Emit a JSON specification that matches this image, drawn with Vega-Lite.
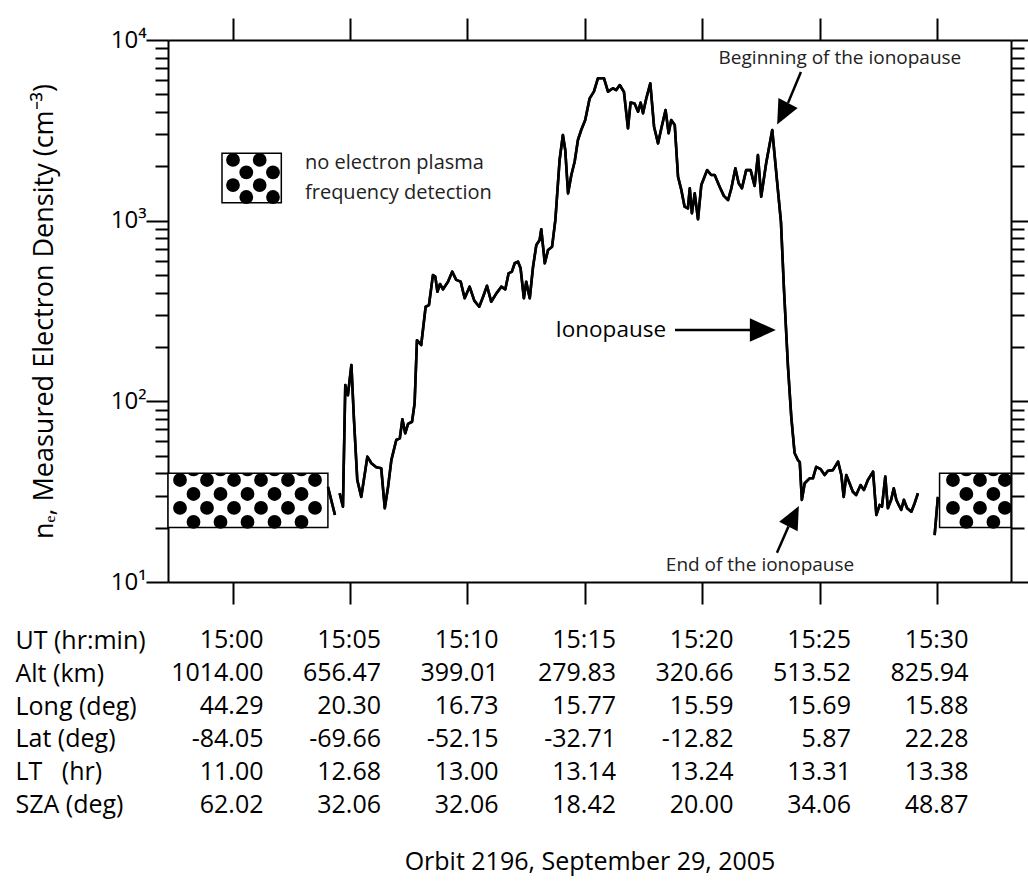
{
  "$schema": "https://vega.github.io/schema/vega-lite/v6.json",
  "padding": {"left": 15, "top": 17, "right": 5, "bottom": 5},
  "background": "white",
  "bounds": "flush",
  "spacing": 42,
  "config": {
    "view": {"stroke": null},
    "font": "Open Sans",
    "text": {"font": "Open Sans", "color": "black"},
    "axis": {"zindex": 1, "grid": false, "domainColor": "black", "domainWidth": 2, "tickColor": "black", "tickWidth": 2, "labelColor": "black", "titleColor": "black", "labelFont": "Open Sans", "titleFont": "Open Sans", "titleFontWeight": "normal"}
  },
  "datasets": {
    "trace": [
      {"t": 4.06, "ne": 33.6, "s": "A"}, {"t": 4.36, "ne": 23.5, "s": "A"},
      {"t": 4.56, "ne": 31.0, "s": "B"}, {"t": 4.70, "ne": 26.1, "s": "B"}, {"t": 4.80, "ne": 123, "s": "B"}, {"t": 4.91, "ne": 108, "s": "B"},
      {"t": 5.06, "ne": 159, "s": "B"}, {"t": 5.17, "ne": 78.9, "s": "B"}, {"t": 5.31, "ne": 36.7, "s": "B"}, {"t": 5.48, "ne": 29.6, "s": "B"},
      {"t": 5.74, "ne": 49.4, "s": "B"}, {"t": 5.91, "ne": 45.4, "s": "B"}, {"t": 6.12, "ne": 43.2, "s": "B"}, {"t": 6.33, "ne": 42.6, "s": "B"},
      {"t": 6.48, "ne": 25.6, "s": "B"}, {"t": 6.62, "ne": 33.6, "s": "B"}, {"t": 6.76, "ne": 47.3, "s": "B"}, {"t": 6.97, "ne": 61.1, "s": "B"},
      {"t": 7.12, "ne": 62.4, "s": "B"}, {"t": 7.23, "ne": 79.6, "s": "B"}, {"t": 7.35, "ne": 66.5, "s": "B"}, {"t": 7.47, "ne": 75.0, "s": "B"},
      {"t": 7.64, "ne": 77.1, "s": "B"}, {"t": 7.75, "ne": 97.5, "s": "B"}, {"t": 7.85, "ne": 218, "s": "B"}, {"t": 8.03, "ne": 205, "s": "B"},
      {"t": 8.22, "ne": 334, "s": "B"}, {"t": 8.36, "ne": 341, "s": "B"}, {"t": 8.53, "ne": 500, "s": "B"}, {"t": 8.63, "ne": 490, "s": "B"},
      {"t": 8.72, "ne": 404, "s": "B"}, {"t": 8.83, "ne": 446, "s": "B"}, {"t": 8.96, "ne": 417, "s": "B"}, {"t": 9.17, "ne": 459, "s": "B"},
      {"t": 9.35, "ne": 522, "s": "B"}, {"t": 9.52, "ne": 470, "s": "B"}, {"t": 9.71, "ne": 460, "s": "B"}, {"t": 9.88, "ne": 372, "s": "B"},
      {"t": 10.09, "ne": 431, "s": "B"}, {"t": 10.29, "ne": 361, "s": "B"}, {"t": 10.50, "ne": 334, "s": "B"}, {"t": 10.68, "ne": 384, "s": "B"},
      {"t": 10.83, "ne": 436, "s": "B"}, {"t": 11.01, "ne": 356, "s": "B"}, {"t": 11.23, "ne": 396, "s": "B"}, {"t": 11.44, "ne": 431, "s": "B"},
      {"t": 11.61, "ne": 417, "s": "B"}, {"t": 11.75, "ne": 511, "s": "B"}, {"t": 11.89, "ne": 522, "s": "B"}, {"t": 12.01, "ne": 581, "s": "B"},
      {"t": 12.15, "ne": 593, "s": "B"}, {"t": 12.26, "ne": 545, "s": "B"}, {"t": 12.40, "ne": 372, "s": "B"}, {"t": 12.50, "ne": 459, "s": "B"},
      {"t": 12.65, "ne": 372, "s": "B"}, {"t": 12.79, "ne": 556, "s": "B"}, {"t": 12.93, "ne": 733, "s": "B"}, {"t": 13.07, "ne": 781, "s": "B"},
      {"t": 13.14, "ne": 895, "s": "B"}, {"t": 13.29, "ne": 581, "s": "B"}, {"t": 13.43, "ne": 689, "s": "B"}, {"t": 13.60, "ne": 718, "s": "B"},
      {"t": 13.74, "ne": 1009, "s": "B"}, {"t": 13.92, "ne": 2167, "s": "B"}, {"t": 14.06, "ne": 2979, "s": "B"}, {"t": 14.16, "ne": 2460, "s": "B"},
      {"t": 14.28, "ne": 1416, "s": "B"}, {"t": 14.42, "ne": 1790, "s": "B"}, {"t": 14.56, "ne": 2118, "s": "B"}, {"t": 14.70, "ne": 2795, "s": "B"},
      {"t": 14.84, "ne": 3175, "s": "B"}, {"t": 15.01, "ne": 3606, "s": "B"}, {"t": 15.20, "ne": 4755, "s": "B"}, {"t": 15.38, "ne": 5176, "s": "B"},
      {"t": 15.55, "ne": 6140, "s": "B"}, {"t": 15.81, "ne": 6140, "s": "B"}, {"t": 15.98, "ne": 5176, "s": "B"}, {"t": 16.19, "ne": 5406, "s": "B"},
      {"t": 16.33, "ne": 5285, "s": "B"}, {"t": 16.48, "ne": 5634, "s": "B"}, {"t": 16.66, "ne": 5153, "s": "B"}, {"t": 16.83, "ne": 3244, "s": "B"},
      {"t": 16.94, "ne": 4509, "s": "B"}, {"t": 17.11, "ne": 4448, "s": "B"}, {"t": 17.26, "ne": 4009, "s": "B"}, {"t": 17.37, "ne": 4498, "s": "B"},
      {"t": 17.47, "ne": 3928, "s": "B"}, {"t": 17.61, "ne": 4755, "s": "B"}, {"t": 17.78, "ne": 5759, "s": "B"}, {"t": 17.94, "ne": 3311, "s": "B"},
      {"t": 18.11, "ne": 2679, "s": "B"}, {"t": 18.25, "ne": 3244, "s": "B"}, {"t": 18.43, "ne": 4093, "s": "B"}, {"t": 18.56, "ne": 3047, "s": "B"},
      {"t": 18.67, "ne": 3606, "s": "B"}, {"t": 18.82, "ne": 3388, "s": "B"}, {"t": 18.96, "ne": 1750, "s": "B"}, {"t": 19.10, "ne": 1480, "s": "B"},
      {"t": 19.24, "ne": 1195, "s": "B"}, {"t": 19.38, "ne": 1170, "s": "B"}, {"t": 19.46, "ne": 1511, "s": "B"}, {"t": 19.55, "ne": 1099, "s": "B"},
      {"t": 19.67, "ne": 1416, "s": "B"}, {"t": 19.81, "ne": 1018, "s": "B"}, {"t": 19.95, "ne": 1574, "s": "B"}, {"t": 20.20, "ne": 1905, "s": "B"},
      {"t": 20.37, "ne": 1790, "s": "B"}, {"t": 20.52, "ne": 1790, "s": "B"}, {"t": 20.73, "ne": 1542, "s": "B"}, {"t": 20.91, "ne": 1371, "s": "B"},
      {"t": 21.09, "ne": 1301, "s": "B"}, {"t": 21.23, "ne": 1511, "s": "B"}, {"t": 21.40, "ne": 1948, "s": "B"}, {"t": 21.54, "ne": 1611, "s": "B"},
      {"t": 21.68, "ne": 1511, "s": "B"}, {"t": 21.86, "ne": 1905, "s": "B"}, {"t": 22.05, "ne": 1905, "s": "B"}, {"t": 22.22, "ne": 1556, "s": "B"},
      {"t": 22.36, "ne": 2307, "s": "B"}, {"t": 22.50, "ne": 1358, "s": "B"}, {"t": 22.71, "ne": 2080, "s": "B"}, {"t": 22.97, "ne": 3175, "s": "B"},
      {"t": 23.17, "ne": 1679, "s": "B"}, {"t": 23.34, "ne": 984, "s": "B"}, {"t": 23.47, "ne": 413, "s": "B"}, {"t": 23.64, "ne": 155, "s": "B"},
      {"t": 23.78, "ne": 81.8, "s": "B"}, {"t": 23.92, "ne": 51.8, "s": "B"}, {"t": 24.06, "ne": 47.3, "s": "B"}, {"t": 24.14, "ne": 46.1, "s": "B"},
      {"t": 24.23, "ne": 28.5, "s": "B"}, {"t": 24.35, "ne": 35.2, "s": "B"}, {"t": 24.56, "ne": 37.5, "s": "B"}, {"t": 24.70, "ne": 37.5, "s": "B"},
      {"t": 24.84, "ne": 43.4, "s": "B"}, {"t": 25.03, "ne": 42.1, "s": "B"}, {"t": 25.20, "ne": 39.1, "s": "B"}, {"t": 25.34, "ne": 41.3, "s": "B"},
      {"t": 25.55, "ne": 41.6, "s": "B"}, {"t": 25.77, "ne": 46.4, "s": "B"}, {"t": 25.91, "ne": 39.1, "s": "B"}, {"t": 26.01, "ne": 29.6, "s": "B"},
      {"t": 26.12, "ne": 39.1, "s": "B"}, {"t": 26.26, "ne": 35.2, "s": "B"}, {"t": 26.40, "ne": 31.6, "s": "B"}, {"t": 26.54, "ne": 30.3, "s": "B"},
      {"t": 26.73, "ne": 34.4, "s": "B"}, {"t": 26.87, "ne": 32.3, "s": "B"}, {"t": 27.04, "ne": 36.7, "s": "B"}, {"t": 27.26, "ne": 40.8, "s": "B"},
      {"t": 27.40, "ne": 23.5, "s": "B"}, {"t": 27.54, "ne": 26.7, "s": "B"}, {"t": 27.64, "ne": 26.1, "s": "B"}, {"t": 27.78, "ne": 38.3, "s": "B"},
      {"t": 27.89, "ne": 25.6, "s": "B"}, {"t": 28.03, "ne": 28.5, "s": "B"}, {"t": 28.14, "ne": 33.0, "s": "B"}, {"t": 28.25, "ne": 28.5, "s": "B"},
      {"t": 28.35, "ne": 26.7, "s": "B"}, {"t": 28.46, "ne": 25.1, "s": "B"}, {"t": 28.57, "ne": 28.5, "s": "B"}, {"t": 28.71, "ne": 25.6, "s": "B"},
      {"t": 28.89, "ne": 24.5, "s": "B"}, {"t": 29.03, "ne": 27.3, "s": "B"}, {"t": 29.17, "ne": 31.0, "s": "B"},
      {"t": 29.88, "ne": 18.2, "s": "C"}, {"t": 30.02, "ne": 29.6, "s": "C"}
    ],
    "boxes": [
      {"t0": -2.745, "t1": 4.06, "lo": 20, "hi": 40},
      {"t0": 30.09, "t1": 33.13, "lo": 20, "hi": 40},
      {"t0": -0.447, "t1": 2.077, "lo": 1256, "hi": 2361}
    ],
    "dots": [
      {"t": -2.234, "ne": 36.7}, {"t": -1.085, "ne": 36.7}, {"t": 0.064, "ne": 36.7}, {"t": 1.213, "ne": 36.7}, {"t": 2.362, "ne": 36.7}, {"t": 3.511, "ne": 36.7},
      {"t": -2.234, "ne": 25.7}, {"t": -1.085, "ne": 25.7}, {"t": 0.064, "ne": 25.7}, {"t": 1.213, "ne": 25.7}, {"t": 2.362, "ne": 25.7}, {"t": 3.511, "ne": 25.7},
      {"t": -1.660, "ne": 30.7}, {"t": -0.511, "ne": 30.7}, {"t": 0.638, "ne": 30.7}, {"t": 1.787, "ne": 30.7}, {"t": 2.936, "ne": 30.7},
      {"t": -1.660, "ne": 21.5}, {"t": -0.511, "ne": 21.5}, {"t": 0.638, "ne": 21.5}, {"t": 1.787, "ne": 21.5}, {"t": 2.936, "ne": 21.5},
      {"t": 30.66, "ne": 36.7}, {"t": 31.81, "ne": 36.7}, {"t": 32.87, "ne": 36.7},
      {"t": 30.66, "ne": 25.7}, {"t": 31.81, "ne": 25.7}, {"t": 32.87, "ne": 25.7},
      {"t": 31.23, "ne": 30.7}, {"t": 32.38, "ne": 30.7},
      {"t": 31.23, "ne": 21.5}, {"t": 32.38, "ne": 21.5},
      {"t": 0.021, "ne": 2168}, {"t": 1.157, "ne": 2168}, {"t": 0.021, "ne": 1574}, {"t": 1.157, "ne": 1574},
      {"t": 0.587, "ne": 1849}, {"t": 1.723, "ne": 1849}, {"t": 0.587, "ne": 1352}, {"t": 1.723, "ne": 1352}
    ],
    "edgedots": [
      {"t": -1.660, "ne": 40}, {"t": -0.511, "ne": 40}, {"t": 0.638, "ne": 40}, {"t": 1.787, "ne": 40}, {"t": 2.936, "ne": 40},
      {"t": 31.23, "ne": 40}, {"t": 32.38, "ne": 40}
    ],
    "arrows": [
      {"t": 24.19, "ne": 6650, "t2": 23.64, "ne2": 4478},
      {"t": 18.83, "ne": 248, "t2": 22.15, "ne2": 248},
      {"t": 23.17, "ne": 14.5, "t2": 23.66, "ne2": 20.3}
    ],
    "table": [
      {"r": "UT (hr:min)", "t": 0, "v": "15:00"}, {"r": "UT (hr:min)", "t": 5, "v": "15:05"}, {"r": "UT (hr:min)", "t": 10, "v": "15:10"}, {"r": "UT (hr:min)", "t": 15, "v": "15:15"}, {"r": "UT (hr:min)", "t": 20, "v": "15:20"}, {"r": "UT (hr:min)", "t": 25, "v": "15:25"}, {"r": "UT (hr:min)", "t": 30, "v": "15:30"},
      {"r": "Alt (km)", "t": 0, "v": "1014.00"}, {"r": "Alt (km)", "t": 5, "v": "656.47"}, {"r": "Alt (km)", "t": 10, "v": "399.01"}, {"r": "Alt (km)", "t": 15, "v": "279.83"}, {"r": "Alt (km)", "t": 20, "v": "320.66"}, {"r": "Alt (km)", "t": 25, "v": "513.52"}, {"r": "Alt (km)", "t": 30, "v": "825.94"},
      {"r": "Long (deg)", "t": 0, "v": "44.29"}, {"r": "Long (deg)", "t": 5, "v": "20.30"}, {"r": "Long (deg)", "t": 10, "v": "16.73"}, {"r": "Long (deg)", "t": 15, "v": "15.77"}, {"r": "Long (deg)", "t": 20, "v": "15.59"}, {"r": "Long (deg)", "t": 25, "v": "15.69"}, {"r": "Long (deg)", "t": 30, "v": "15.88"},
      {"r": "Lat (deg)", "t": 0, "v": "-84.05"}, {"r": "Lat (deg)", "t": 5, "v": "-69.66"}, {"r": "Lat (deg)", "t": 10, "v": "-52.15"}, {"r": "Lat (deg)", "t": 15, "v": "-32.71"}, {"r": "Lat (deg)", "t": 20, "v": "-12.82"}, {"r": "Lat (deg)", "t": 25, "v": "5.87"}, {"r": "Lat (deg)", "t": 30, "v": "22.28"},
      {"r": "LT\u00a0\u00a0\u00a0(hr)", "t": 0, "v": "11.00"}, {"r": "LT\u00a0\u00a0\u00a0(hr)", "t": 5, "v": "12.68"}, {"r": "LT\u00a0\u00a0\u00a0(hr)", "t": 10, "v": "13.00"}, {"r": "LT\u00a0\u00a0\u00a0(hr)", "t": 15, "v": "13.14"}, {"r": "LT\u00a0\u00a0\u00a0(hr)", "t": 20, "v": "13.24"}, {"r": "LT\u00a0\u00a0\u00a0(hr)", "t": 25, "v": "13.31"}, {"r": "LT\u00a0\u00a0\u00a0(hr)", "t": 30, "v": "13.38"},
      {"r": "SZA (deg)", "t": 0, "v": "62.02"}, {"r": "SZA (deg)", "t": 5, "v": "32.06"}, {"r": "SZA (deg)", "t": 10, "v": "32.06"}, {"r": "SZA (deg)", "t": 15, "v": "18.42"}, {"r": "SZA (deg)", "t": 20, "v": "20.00"}, {"r": "SZA (deg)", "t": 25, "v": "34.06"}, {"r": "SZA (deg)", "t": 30, "v": "48.87"}
    ]
  },
  "vconcat": [
    {
      "width": 843,
      "height": 542,
      "resolve": {"axis": {"x": "independent", "y": "independent"}},
      "layer": [
        {
          "data": {"name": "trace"},
          "mark": {"type": "line", "color": "black", "strokeWidth": 2.6, "strokeJoin": "round"},
          "encoding": {
            "x": {"field": "t", "type": "quantitative", "scale": {"domain": [-2.745, 33.13], "nice": false, "zero": false},
                  "axis": {"orient": "bottom", "values": [0, 5, 10, 15, 20, 25, 30], "labels": false, "tickSize": 22, "title": null}},
            "y": {"field": "ne", "type": "quantitative", "scale": {"type": "log", "domain": [10, 10000], "nice": false},
                  "axis": {"orient": "left", "values": [10, 20, 30, 40, 50, 60, 70, 80, 90, 100, 200, 300, 400, 500, 600, 700, 800, 900, 1000, 2000, 3000, 4000, 5000, 6000, 7000, 8000, 9000, 10000],
                           "tickSize": {"condition": {"test": "abs(log(datum.value)/LN10 - round(log(datum.value)/LN10)) < 0.001", "value": 22}, "value": 13},
                           "labelExpr": "datum.value == 10 ? '10¹' : datum.value == 100 ? '10²' : datum.value == 1000 ? '10³' : datum.value == 10000 ? '10⁴' : ''",
                           "labelOverlap": false, "labelFlush": false, "labelFontSize": 24, "labelPadding": 0, "labelBaseline": "middle",
                           "title": "nₑ, Measured Electron Density (cm⁻³)", "titleFontSize": 27, "titlePadding": 52}},
            "detail": {"field": "s"}
          }
        },
        {
          "data": {"name": "boxes"},
          "mark": {"type": "rect", "fill": "white", "stroke": "black", "strokeWidth": 1.5},
          "encoding": {
            "x": {"field": "t0", "type": "quantitative",
                  "axis": {"orient": "top", "values": [0, 5, 10, 15, 20, 25, 30], "labels": false, "tickSize": 22, "title": null}},
            "x2": {"field": "t1"},
            "y": {"field": "lo", "type": "quantitative",
                  "axis": {"orient": "right", "values": [10, 20, 30, 40, 50, 60, 70, 80, 90, 100, 200, 300, 400, 500, 600, 700, 800, 900, 1000, 2000, 3000, 4000, 5000, 6000, 7000, 8000, 9000, 10000],
                           "tickSize": {"condition": {"test": "abs(log(datum.value)/LN10 - round(log(datum.value)/LN10)) < 0.001", "value": 22}, "value": 13},
                           "labels": false, "title": null}},
            "y2": {"field": "hi"}
          }
        },
        {
          "data": {"name": "dots"},
          "mark": {"type": "point", "shape": "circle", "filled": true, "color": "black", "opacity": 1, "size": 190, "strokeWidth": 0},
          "encoding": {
            "x": {"field": "t", "type": "quantitative", "axis": null},
            "y": {"field": "ne", "type": "quantitative", "axis": null}
          }
        },
        {
          "data": {"name": "edgedots"},
          "mark": {"type": "point", "shape": "M-0.8,0A1,1,0,0,0,0.8,0Z", "filled": true, "color": "black", "opacity": 1, "size": 225, "strokeWidth": 0},
          "encoding": {
            "x": {"field": "t", "type": "quantitative", "axis": null},
            "y": {"field": "ne", "type": "quantitative", "axis": null}
          }
        },
        {
          "data": {"name": "trace"},
          "mark": {"type": "line", "color": "black", "strokeWidth": 2.6, "strokeJoin": "round"},
          "encoding": {
            "x": {"field": "t", "type": "quantitative", "axis": null},
            "y": {"field": "ne", "type": "quantitative", "axis": null},
            "detail": {"field": "s"}
          }
        },
        {
          "data": {"name": "arrows"},
          "mark": {"type": "rule", "color": "black", "strokeWidth": 2.5},
          "encoding": {
            "x": {"field": "t", "type": "quantitative", "axis": null},
            "y": {"field": "ne", "type": "quantitative", "axis": null},
            "x2": {"field": "t2"},
            "y2": {"field": "ne2"}
          }
        },
        {
          "data": {"values": [{"t": 23.41, "ne": 3909}]},
          "mark": {"type": "point", "shape": "M0,-1L0.9,1L-0.9,1Z", "filled": true, "color": "black", "opacity": 1, "size": 576, "angle": 207, "strokeWidth": 0},
          "encoding": {"x": {"field": "t", "type": "quantitative", "axis": null}, "y": {"field": "ne", "type": "quantitative", "axis": null}}
        },
        {
          "data": {"values": [{"t": 22.57, "ne": 248}]},
          "mark": {"type": "point", "shape": "M0,-1L0.9,1L-0.9,1Z", "filled": true, "color": "black", "opacity": 1, "size": 676, "angle": 90, "strokeWidth": 0},
          "encoding": {"x": {"field": "t", "type": "quantitative", "axis": null}, "y": {"field": "ne", "type": "quantitative", "axis": null}}
        },
        {
          "data": {"values": [{"t": 23.88, "ne": 23.1}]},
          "mark": {"type": "point", "shape": "M0,-1L0.9,1L-0.9,1Z", "filled": true, "color": "black", "opacity": 1, "size": 529, "angle": 27, "strokeWidth": 0},
          "encoding": {"x": {"field": "t", "type": "quantitative", "axis": null}, "y": {"field": "ne", "type": "quantitative", "axis": null}}
        },
        {
          "data": {"values": [{"t": 25.85, "ne": 7943, "txt": "Beginning of the ionopause"}, {"t": 22.45, "ne": 12.4, "txt": "End of the ionopause"}]},
          "mark": {"type": "text", "fontSize": 19, "align": "center", "baseline": "middle", "color": "#222"},
          "encoding": {"x": {"field": "t", "type": "quantitative", "axis": null}, "y": {"field": "ne", "type": "quantitative", "axis": null}, "text": {"field": "txt"}}
        },
        {
          "data": {"values": [{"t": 3.085, "ne": 2084, "txt": "no electron plasma"}, {"t": 3.085, "ne": 1429, "txt": "frequency detection"}]},
          "mark": {"type": "text", "fontSize": 20, "align": "left", "baseline": "middle", "color": "#222"},
          "encoding": {"x": {"field": "t", "type": "quantitative", "axis": null}, "y": {"field": "ne", "type": "quantitative", "axis": null}, "text": {"field": "txt"}}
        },
        {
          "data": {"values": [{"t": 18.45, "ne": 248, "txt": "Ionopause"}]},
          "mark": {"type": "text", "fontSize": 22.5, "align": "right", "baseline": "middle", "color": "black"},
          "encoding": {"x": {"field": "t", "type": "quantitative", "axis": null}, "y": {"field": "ne", "type": "quantitative", "axis": null}, "text": {"field": "txt"}}
        }
      ]
    },
    {
      "width": 843,
      "height": 197,
      "data": {"name": "table"},
      "mark": {"type": "text", "fontSize": 25, "align": "right", "baseline": "middle", "dx": 31, "color": "black"},
      "encoding": {
        "x": {"field": "t", "type": "quantitative", "scale": {"domain": [-2.745, 33.13], "nice": false, "zero": false},
              "axis": {"orient": "bottom", "ticks": false, "labels": false, "domain": false, "title": "Orbit 2196, September 29, 2005", "titleFontSize": 25, "titlePadding": 28}},
        "y": {"field": "r", "type": "nominal", "sort": ["UT (hr:min)", "Alt (km)", "Long (deg)", "Lat (deg)", "LT\u00a0\u00a0\u00a0(hr)", "SZA (deg)"],
              "scale": {"paddingInner": 0, "paddingOuter": 0},
              "axis": {"orient": "left", "ticks": false, "domain": false, "title": null, "labelAlign": "left", "labelPadding": 153, "labelFontSize": 25}},
        "text": {"field": "v"}
      }
    }
  ]
}
